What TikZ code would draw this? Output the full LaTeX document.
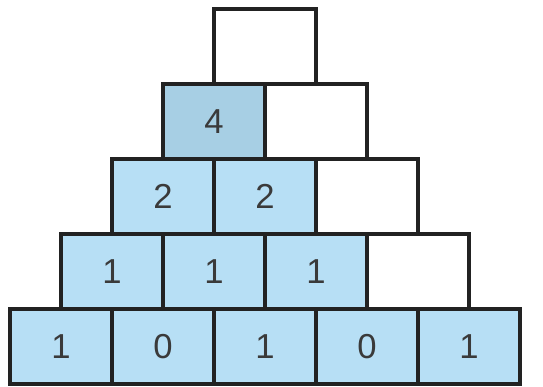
\documentclass[tikz,border=0pt]{standalone}
\usepackage{fontspec}
\setmainfont{Liberation Sans}
\usepackage{xcolor}
\usepackage{tikz}
\usetikzlibrary{positioning}
\definecolor{cellblue}{HTML}{B7DFF5}
\definecolor{celldeep}{HTML}{A7CFE4}
\definecolor{edgegray}{HTML}{222222}
\definecolor{digitgray}{HTML}{3A3A3A}
\tikzset{
  cell/.style={rectangle, draw=edgegray, line width=2.5pt, minimum width=76.5pt,
               minimum height=56.25pt, inner sep=0pt, outer sep=0pt,
               font=\fontsize{26}{26}\selectfont, text=digitgray},
  lit/.style={cell, fill=cellblue},
  deep/.style={cell, fill=celldeep},
  blank/.style={cell, fill=white},
}
\begin{document}
\begin{tikzpicture}
\useasboundingbox (0,0) rectangle (407.25pt,289.5pt);
% bottom row
\node[lit, anchor=south west] (a1) at (7.5pt,1.5pt) {1};
\node[lit] (a2) [right=0pt of a1] {0};
\node[lit] (a3) [right=0pt of a2] {1};
\node[lit] (a4) [right=0pt of a3] {0};
\node[lit] (a5) [right=0pt of a4] {1};
% second row
\node[lit, anchor=south] (b1) at (a1.north east) {1};
\node[lit] (b2) [right=0pt of b1] {1};
\node[lit] (b3) [right=0pt of b2] {1};
\node[blank] (b4) [right=0pt of b3] {};
% third row
\node[lit, anchor=south] (c1) at (b1.north east) {2};
\node[lit] (c2) [right=0pt of c1] {2};
\node[blank] (c3) [right=0pt of c2] {};
% fourth row
\node[deep, anchor=south] (d1) at (c1.north east) {4};
\node[blank] (d2) [right=0pt of d1] {};
% top
\node[blank, anchor=south] (e1) at (d1.north east) {};
\end{tikzpicture}
\end{document}
